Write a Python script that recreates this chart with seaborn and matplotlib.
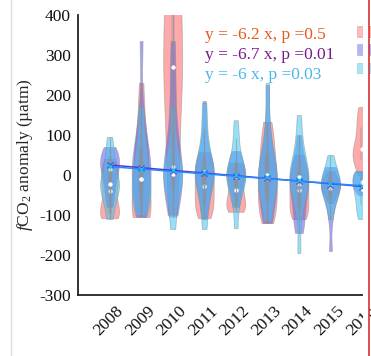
import numpy as np
import pandas as pd
import matplotlib
matplotlib.use("Agg")
import matplotlib.pyplot as plt
import seaborn as sns
from matplotlib.lines import Line2D
from matplotlib.patches import Rectangle
import matplotlib.transforms as mtransforms

# ---------------- data ----------------
years = ["2008", "2009", "2010", "2011", "2012", "2013", "2014", "2015", "2016"]
series_names = ["Series A", "Series B", "Series C"]

red_vals = [
    [-108, -104, -98, -90, -75, -50, -30, -20, -5, 10, 25, 40],
    [-105, -100, -95, -85, -60, -30, 10, 40, 60, 90, 150, 230],
    [-104, -50, 0, 50, 100, 150, 200, 240, 260, 280, 320, 360, 400, 440, 480, 520, 560, 600],
    [-108, -95, -80, -65, -50, -35, -20, -5, 10, 25, 40, 57],
    [-92, -88, -80, -70, -60, -45, -30, -15, 0, 10, 20, 30],
    [-120, -100, -80, -60, -40, -20, 0, 20, 45, 70, 100, 133],
    [-110, -100, -90, -75, -60, -45, -30, -20, -5, 10, 30, 50],
    [-70, -55, -45, -40, -35, -30, -25, -20, -15, -10, 0, 10],
    [0, 20, 35, 45, 55, 60, 70, 90, 110, 130, 150, 170],
]
purple_vals = [
    [-80, -55, -35, -15, 0, 10, 20, 30, 40, 50, 60, 70],
    [-105, -80, -50, -30, -10, 10, 25, 40, 60, 90, 160, 335],
    [-100, -60, -30, -10, 0, 10, 30, 60, 100, 175, 250, 335],
    [-110, -70, -40, -20, 0, 5, 10, 15, 30, 60, 110, 185],
    [-80, -60, -40, -25, -15, -5, 0, 10, 20, 30, 45, 60],
    [-120, -95, -70, -45, -25, -10, 0, 15, 35, 60, 120, 225],
    [-145, -120, -95, -70, -50, -30, -15, -5, 5, 20, 45, 100],
    [-190, -110, -75, -55, -45, -35, -28, -20, -12, -5, 5, 20],
    [-50, -40, -35, -30, -25, -20, -15, -10, -5, 0, 5, 10],
]
cyan_vals = [
    [-110, -80, -60, -40, -30, -25, -20, -5, 15, 35, 60, 95],
    [-100, -85, -60, -45, -40, -20, 0, 20, 40, 70, 110, 170],
    [-135, -90, -50, -25, -10, 0, 5, 15, 30, 60, 110, 175],
    [-135, -80, -45, -20, -5, 5, 10, 20, 35, 70, 120, 180],
    [-133, -70, -40, -20, -10, -5, 0, 10, 25, 50, 90, 137],
    [-115, -80, -50, -30, -15, -5, 5, 20, 40, 70, 130, 230],
    [-195, -90, -50, -30, -20, -10, 0, 10, 25, 50, 90, 150],
    [-110, -75, -55, -45, -35, -28, -20, -10, 0, 10, 25, 50],
    [-110, -95, -80, -65, -50, -40, -30, -20, -10, 0, 5, 10],
]

# annual means (x markers) and linear fits
purple_means = [25, 17, 10, 6, -2, -8, -15, -25, -30]
cyan_means = [22, 16, 12, 8, 0, -4, -12, -22, -28]
fit_slopes = [-6.7, -6.0]
fit_intercepts = [25, 21]
fit_labels = ["y = -6.2 x, p =0.5", "y = -6.7 x, p =0.01", "y = -6 x, p =0.03"]
yticks = [-300, -200, -100, 0, 100, 200, 300, 400]

# ---------------- style ----------------
sns.set_theme(style="white")
plt.rcParams["font.family"] = ["Liberation Serif", "DejaVu Serif"]
plt.rcParams["mathtext.fontset"] = "custom"
plt.rcParams["mathtext.rm"] = "Liberation Serif"
plt.rcParams["mathtext.it"] = "Liberation Serif:italic"

rows = []
for name, vals in zip(series_names, [red_vals, purple_vals, cyan_vals]):
    for yr, v in zip(years, vals):
        for x in v:
            rows.append((yr, name, x))
df = pd.DataFrame(rows, columns=["year", "series", "value"])

palette = {"Series A": "#FF6464", "Series B": "#5A5AED", "Series C": "#3CC8F6"}

fig = plt.figure(figsize=(3.71, 3.56), dpi=100)
ax = fig.add_axes([78 / 371, 61 / 356, 284 / 371, 280 / 356])

sns.violinplot(
    data=df, x="year", y="value", hue="series", order=years,
    hue_order=series_names, palette=palette, dodge=False, cut=0,
    density_norm="width", width=0.6, bw_adjust=0.8, inner="box",
    inner_kws=dict(box_width=3.0, whis_width=0.8, marker="o"),
    linewidth=0.6, linecolor="#909090", saturation=1, alpha=0.55,
    ax=ax,
)
# soften the inner boxes / whiskers
for ln in ax.lines:
    if ln.get_marker() in ("None", None, ""):
        ln.set_alpha(0.3 if ln.get_linewidth() > 2 else 0.6)

# fitted lines and mean markers
xs = np.arange(len(years))
line_cols = ["#6030D0", "#1E90FF"]
for slope, icpt, col in zip(fit_slopes, fit_intercepts, line_cols):
    ax.plot([0, len(years) - 1], [icpt, icpt + slope * (len(years) - 1)],
            color=col, lw=1.1, zorder=5)
ax.plot(xs, purple_means, ls="none", marker="x", ms=4, mew=1, color="#6030D0", zorder=6)
ax.plot(xs, cyan_means, ls="none", marker="x", ms=4, mew=1, color="#20B8F0", zorder=6)

# axes formatting
ax.set_xlim(-1, len(years) - 1)
ax.set_ylim(-300, 400)
ax.set_yticks(yticks)
ax.set_yticklabels([str(t) for t in yticks])
ax.set_xlabel("")
ax.set_ylabel(r"$\it{f}$CO$_2$ anomaly (µatm)", fontsize=12.5, labelpad=3)
for s in ["top", "right"]:
    ax.spines[s].set_visible(False)
for s in ["left", "bottom"]:
    ax.spines[s].set_color("#222222")
    ax.spines[s].set_linewidth(1.3)
ax.tick_params(axis="both", direction="in", length=4, width=1, color="#222222",
               labelsize=12.5, labelcolor="#111111")
ax.tick_params(axis="y", pad=5)
ax.tick_params(axis="x", pad=6)
shift = mtransforms.ScaledTranslation(6 / 100, 0, fig.dpi_scale_trans)
for lab in ax.get_xticklabels():
    lab.set_rotation(45)
    lab.set_ha("right")
    lab.set_rotation_mode("anchor")
    lab.set_transform(lab.get_transform() + shift)

# legend (patches only, cut by the crop edge)
handles, labels = ax.get_legend_handles_labels()
if ax.get_legend() is not None:
    ax.get_legend().remove()
for h in handles:
    h.set_alpha(0.45)
    h.set_edgecolor("#999999")
fig.legend(handles, [""] * len(handles), loc="upper left",
           bbox_to_anchor=(357 / 371, 1 - 26 / 356), frameon=False,
           fontsize=10, handlelength=1.2, handleheight=0.8, labelspacing=0.38,
           borderpad=0, borderaxespad=0, handletextpad=0)

# fit annotations
text_cols = ["#E8591C", "#7A1A8A", "#4DB6EE"]
for i, (txt, col) in enumerate(zip(fit_labels, text_cols)):
    fig.text(205 / 371, 1 - (35 + 20 * i) / 356, txt, color=col,
             fontsize=12.5, va="center", ha="left")

# crop edge and page decorations
fig.add_artist(Rectangle((363 / 371, 0), 6 / 371, 1, transform=fig.transFigure,
                         facecolor="white", edgecolor="none", zorder=50))
fig.add_artist(Line2D([10.5 / 371] * 2, [0, 1], transform=fig.transFigure,
                      color="#dcdcdc", lw=1, zorder=51))
fig.add_artist(Line2D([369 / 371] * 2, [0, 1], transform=fig.transFigure,
                      color="#d83030", lw=1.2, zorder=51))

fig.savefig("out.png", dpi=100)
